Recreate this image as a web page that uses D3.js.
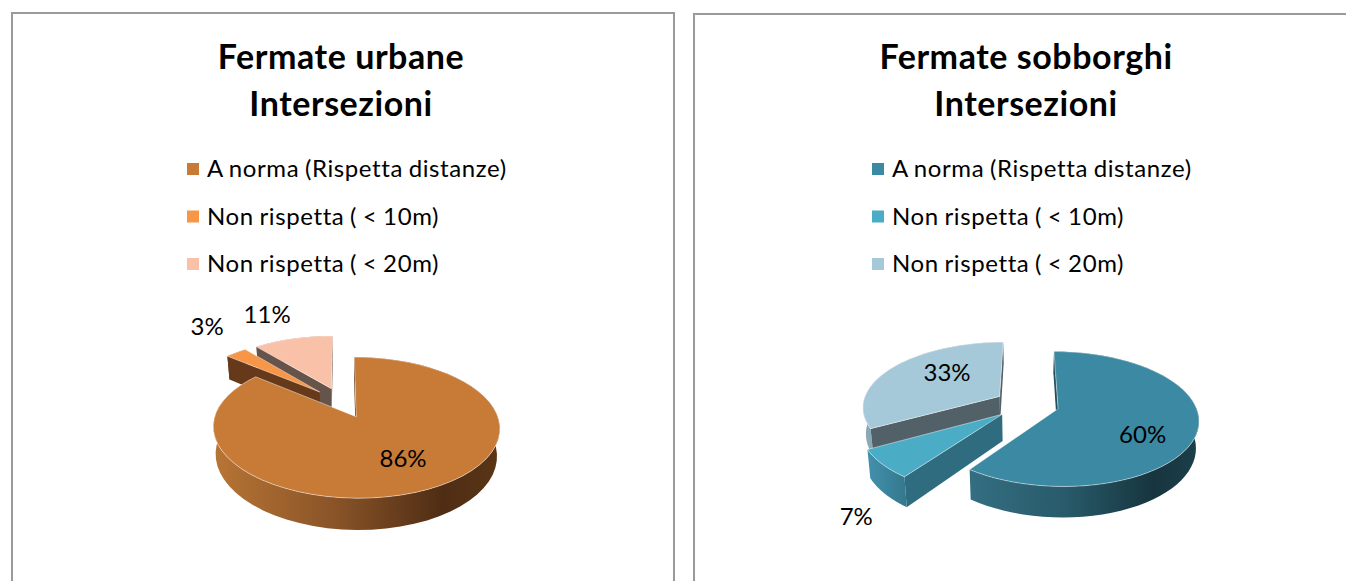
<!DOCTYPE html>
<html><head><meta charset="utf-8">
<script src="https://cdn.jsdelivr.net/npm/d3@7"></script>
<style>html,body{margin:0;background:#fff}svg{display:block}text{font-family:Lato,"Open Sans",sans-serif;fill:#000}</style>
</head><body><svg id="c" width="1346" height="581"></svg>
<script>
const categories = ["A norma (Rispetta distanze)", "Non rispetta ( < 10m)", "Non rispetta ( < 20m)"];
const urbanValues = [86, 3, 11];
const suburbValues = [60, 7, 33];
const urbanTitle = ["Fermate urbane", "Intersezioni"];
const suburbTitle = ["Fermate sobborghi", "Intersezioni"];
const urbanColors = ["#c87a37", "#f79646", "#f9c2a8"];
const suburbColors = ["#3b89a3", "#4bacc6", "#a5c9d9"];

const W = 1346, H = 581;
const svg = d3.select("#c");
const defs = svg.append("defs");
const charts = [
  {id:"u", values:urbanValues, title:urbanTitle, colors:urbanColors, frame:[11,12,662],
   titleX:341, legendX:187, cx:342, cy:402.5,
   cut:["#66391a","#66391a","#66534a"],
   outer:[["#b87535","#8a5428","#4f2d14","#5a3516"],["#66391a","#66391a"],["#8c6a58","#8c6a58"]],
   labels:[[.68,0,-5],[1,-29,-26],[1,-26,-24]]},
  {id:"s", values:suburbValues, title:suburbTitle, colors:suburbColors, frame:[693,13,700],
   titleX:1026, legendX:872, cx:1027, cy:404,
   cut:["#244f5e","#2f6c80","#526168"],
   outer:[["#346e82","#285a6a","#17353e","#1c3f4a"],["#4391ad","#34798f"],["#8ba8b5","#8ba8b5"]],
   labels:[[.68,-9,12],[1,-26,53],[.68,21,-3]]}
];
const R = 137, RT = 64.5, K = 0.15, E = 0.236, DEPTH = 26, ZS = 0.982;
const pie = d3.pie().sort(null).value(d => d);
const line = d3.line();

charts.forEach(ch => {
  const g = svg.append("g");
  const [fx, fy, fw] = ch.frame;
  g.append("path").attr("d", `M${fx+1},${H+2}V${fy+1}H${fx+fw+1}V${H+2}`)
    .attr("fill","none").attr("stroke","#9a9a9a").attr("stroke-width",2);
  ch.title.forEach((t,i) => g.append("text").attr("x",ch.titleX).attr("y",69+i*47)
    .attr("text-anchor","middle").attr("font-size",34).attr("font-weight",700)
    .attr("letter-spacing",.55).text(t));
  categories.forEach((c,i) => {
    const yc = 169 + i*47.5;
    g.append("rect").attr("x",ch.legendX).attr("y",yc-6).attr("width",12).attr("height",12).attr("fill",ch.colors[i]);
    g.append("text").attr("x",ch.legendX+20).attr("y",yc+8).attr("font-size",24)
      .attr("letter-spacing",.6).attr("word-spacing",-1).text(c);
  });

  const project = (u,v,low) => {
    const s = 1/(1-K*v), z = low ? ZS : 1;
    return [ch.cx + R*u*s*z, ch.cy + RT*v*s + (low ? DEPTH*s : 0)];
  };
  const arcs = pie(ch.values).map((a,i)=>({...a,i}));
  arcs.forEach(a => {
    a.mid = (a.startAngle+a.endAngle)/2;
    a.ou = E*Math.sin(a.mid); a.ov = -E*Math.cos(a.mid);
    a.pt = (th,r,low) => project(a.ou+r*Math.sin(th), a.ov-r*Math.cos(th), low);
    a.angs = d3.range(0,61).map(k=>a.startAngle+(a.endAngle-a.startAngle)*k/60);
    const xs = d3.extent(a.angs.map(t=>a.pt(t,1)[0]));
    const grad = defs.append("linearGradient").attr("id",`${ch.id}${a.i}`)
       .attr("gradientUnits","userSpaceOnUse")
       .attr("x1",xs[0]).attr("x2",xs[1]).attr("y1",0).attr("y2",0);
    const cols = ch.outer[a.i];
    const offs = cols.length==4 ? [0,.42,.8,1] : [0,1];
    cols.forEach((c,k)=>grad.append("stop").attr("offset",offs[k]).attr("stop-color",c));
  });
  const order = arcs.slice().sort((a,b)=>a.ov-b.ov);
  order.forEach(a => {
    const sg = g.append("g");
    const top = a.angs.map(t=>a.pt(t,1,false));
    const low = a.angs.map(t=>a.pt(t,1,true)).reverse();
    sg.append("path").attr("d",line(top.concat(low))+"Z").attr("fill",`url(#${ch.id}${a.i})`);
    [[a.startAngle,a.startAngle-Math.PI/2],[a.endAngle,a.endAngle+Math.PI/2]].forEach(([th,n])=>{
      if (-Math.cos(n) < -0.02) return;
      const p = [a.pt(th,0,false),a.pt(th,1,false),a.pt(th,1,true),a.pt(th,0,true)];
      sg.append("path").attr("d",line(p)+"Z").attr("fill",ch.cut[a.i]);
    });
    const face = [a.pt(0,0,false)].concat(top);
    sg.append("path").attr("d",line(face)+"Z").attr("fill",ch.colors[a.i])
      .attr("stroke","#fff").attr("stroke-opacity",.45).attr("stroke-width",1).attr("stroke-linejoin","round");
  });
  arcs.forEach(a => {
    const [r,dx,dy] = ch.labels[a.i];
    const p = a.pt(a.mid,r,false);
    g.append("text").attr("x",p[0]+dx).attr("y",p[1]+dy+8).attr("text-anchor","middle")
      .attr("font-size",24).text(d3.format(".0f")(a.value)+"%");
  });
});
</script></body></html>
